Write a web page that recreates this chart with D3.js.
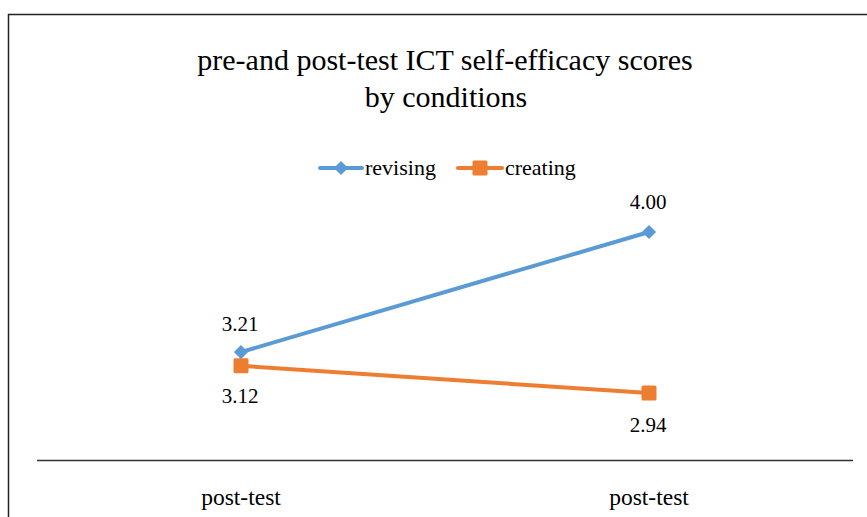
<!DOCTYPE html>
<html><head><meta charset="utf-8">
<script src="https://cdn.jsdelivr.net/npm/d3@7"></script>
<style>body{margin:0;background:#fff}svg{display:block}text{font-family:"Liberation Serif","Times New Roman",serif;fill:#000}</style>
</head><body>
<svg id="c" width="867" height="517"></svg>
<script>
const categories = ["post-test", "post-test"];
const seriesNames = ["revising", "creating"];
const revising = [3.21, 4.00];
const creating = [3.12, 2.94];
const labels = [["3.21", "4.00"], ["3.12", "2.94"]];
const yDomain = [2.5, 4.5];

const svg = d3.select("#c");
const W = 867, H = 517;
svg.append("rect").attr("x", 0).attr("y", 0).attr("width", W).attr("height", H).attr("fill", "#fff");
// chart border (cropped at right and bottom)
svg.append("path").attr("d", `M8.5,${H + 2} V14.5 H${W + 2}`).attr("fill", "none").attr("stroke", "#222").attr("stroke-width", 1.5);

const x = d3.scaleBand().domain(d3.range(categories.length)).range([37, 853]);
const y = d3.scaleLinear().domain(yDomain).range([460, 156]);
const cx = i => x(i) + x.bandwidth() / 2;

// title
svg.append("text").attr("x", 445).attr("y", 70).attr("text-anchor", "middle").attr("font-size", 30).text("pre-and post-test ICT self-efficacy scores");
svg.append("text").attr("x", 446).attr("y", 107).attr("text-anchor", "middle").attr("font-size", 30).text("by conditions");

// axis
const axis = svg.append("g").attr("transform", "translate(0,460)").call(d3.axisBottom(x).tickSize(0).tickPadding(0).tickFormat(i => categories[i]));
axis.select(".domain").attr("stroke", "#333").attr("stroke-width", 1.5).attr("d", "M37,0.5H853");
axis.selectAll("text").attr("font-size", 23.5).attr("font-family", "Liberation Serif").attr("fill", "#000").attr("dy", 0).attr("y", 45);

const colors = ["#5B9BD5", "#ED7D31"];
const data = [revising, creating];
const line = d3.line().x((d, i) => cx(i)).y(d => y(d));

data.forEach((vals, s) => {
  svg.append("path").attr("d", line(vals)).attr("fill", "none").attr("stroke", colors[s]).attr("stroke-width", 4).attr("stroke-linecap", "round");
  vals.forEach((v, i) => {
    if (s === 0) {
      svg.append("path").attr("d", d3.symbol().type(d3.symbolSquare).size(100)()).attr("transform", `translate(${cx(i)},${y(v)}) rotate(45)`).attr("fill", colors[s]);
    } else {
      svg.append("rect").attr("x", cx(i) - 7.5).attr("y", y(v) - 7.5).attr("width", 15).attr("height", 15).attr("rx", 1.5).attr("fill", colors[s]);
    }
  });
});

// data labels
const lblOffsets = [[-21, -23], [37, 39]];
data.forEach((vals, s) => {
  vals.forEach((v, i) => {
    svg.append("text").attr("x", cx(i) - 1).attr("y", y(v) + lblOffsets[s][i]).attr("text-anchor", "middle").attr("font-size", 21).text(labels[s][i]);
  });
});

// legend
const leg = [{x: 320, w: 42}, {x: 458, w: 44}];
seriesNames.forEach((n, s) => {
  const g = svg.append("g").attr("transform", `translate(${leg[s].x},168)`);
  g.append("line").attr("x1", 0).attr("x2", leg[s].w).attr("y1", 0).attr("y2", 0).attr("stroke", colors[s]).attr("stroke-width", 4).attr("stroke-linecap", "round");
  if (s === 0) g.append("path").attr("d", d3.symbol().type(d3.symbolSquare).size(100)()).attr("transform", `translate(${leg[s].w / 2},0) rotate(45)`).attr("fill", colors[s]);
  else g.append("rect").attr("x", leg[s].w / 2 - 7.5).attr("y", -7.5).attr("width", 15).attr("height", 15).attr("rx", 1.5).attr("fill", colors[s]);
  g.append("text").attr("x", leg[s].w + 3).attr("y", 7).attr("font-size", 22).text(n);
});
</script>
</body></html>
